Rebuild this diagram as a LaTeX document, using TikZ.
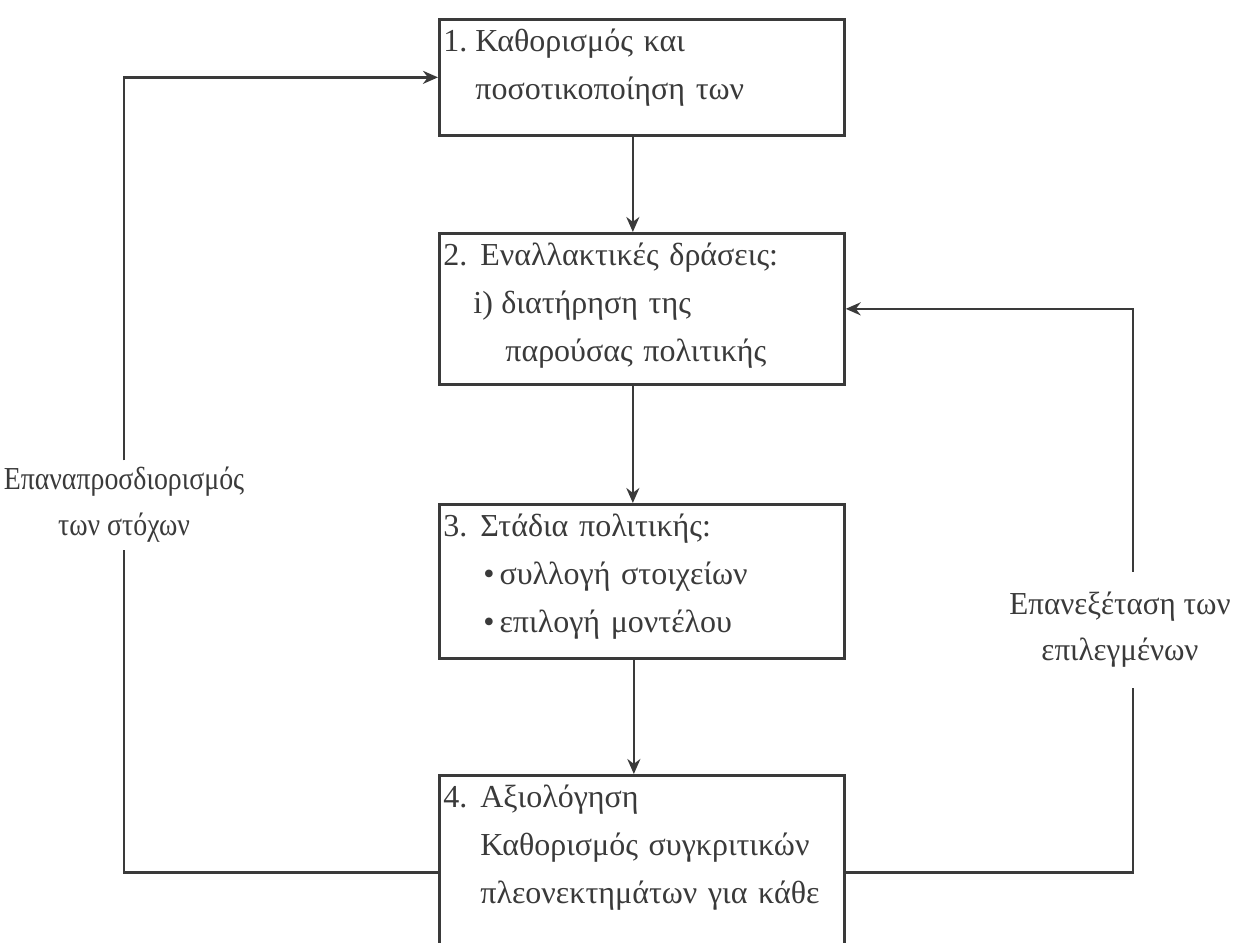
\documentclass[tikz,border=0pt]{standalone}
\usepackage{fontspec}
\setmainfont{Liberation Serif}
\newfontfamily\notefont{Liberation Serif}[FakeStretch=0.87]
\newfontfamily\widenotefont{Liberation Serif}[FakeStretch=0.97]
\usepackage{tikz}
\usetikzlibrary{arrows.meta}
\definecolor{ink}{RGB}{58,58,58}

\begin{document}
\begin{tikzpicture}[x=0.5pt, y=-0.5pt,
  stage/.style={draw=ink, line width=1.35pt, anchor=north west, text=ink, text width=198.5pt, inner xsep=2pt, inner ysep=0pt, text height=16pt, align=left, font=\fontsize{16}{24}\selectfont},
  note/.style={text=ink, align=center, font=\notefont\fontsize{16}{23}\selectfont},
  flow/.style={draw=ink, line width=1.35pt, -{Stealth[length=7.5pt,width=6.5pt]}},
  link/.style={draw=ink, line width=1.35pt}]
\clip (0,0) rectangle (1238,943);
\node[stage, text depth=42pt] (def) at (438,18) {\makebox[16pt][l]{1.}Καθορισμός και\\\hspace*{16pt}ποσοτικοποίηση των};
\node[stage, text depth=59.5pt] (alt) at (438,232) {\makebox[18.5pt][l]{2.}Εναλλακτικές δράσεις:\\\hspace*{15pt}\makebox[14pt][l]{i)}διατήρηση της\\\hspace*{31pt}παρούσας πολιτικής};
\node[stage, text depth=61pt] (pol) at (438,503) {\makebox[18.5pt][l]{3.}Στάδια πολιτικής:\\\hspace*{20pt}\textbullet\hspace{2.5pt}συλλογή στοιχείων\\\hspace*{20pt}\textbullet\hspace{2.5pt}επιλογή μοντέλου};
\node[stage, text depth=81pt] (eval) at (438,774) {\makebox[18.5pt][l]{4.}Αξιολόγηση\\\hspace*{18.5pt}Καθορισμός συγκριτικών\\\hspace*{18.5pt}πλεονεκτημάτων για κάθε};
\node[note] (redef) at (124,505) {Επαναπροσδιορισμός\\των στόχων};
\node[note, font=\widenotefont\fontsize{16}{23}\selectfont, inner ysep=10pt] (review) at (1120,630) {Επανεξέταση των\\επιλεγμένων};
% main sequence
\draw[flow] ([xshift=-4.5pt]def.south) -- ([xshift=-4.5pt]alt.north);
\draw[flow] ([xshift=-4.5pt]alt.south) -- ([xshift=-4.5pt]pol.north);
\draw[flow] ([xshift=-4pt]pol.south) -- ([xshift=-4pt]eval.north);
% feedback loops
\draw[link] (eval.west) -| (redef.south);
\draw[flow] (redef.north) |- (def.west);
\draw[link] (eval.east) -| ([xshift=6.5pt]review.south);
\draw[flow] ([xshift=6.5pt]review.north) |- (alt.east);
\end{tikzpicture}
\end{document}
